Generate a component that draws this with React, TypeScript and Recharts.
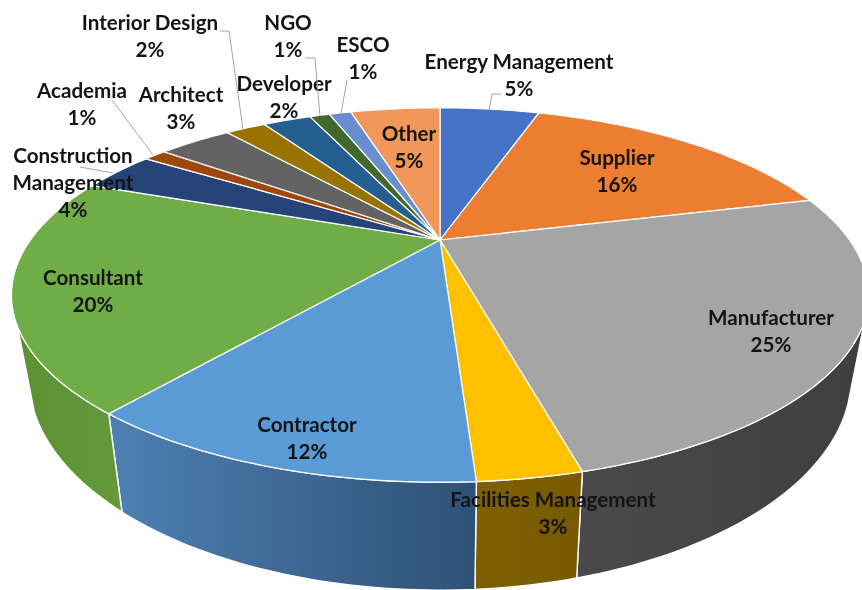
import { PieChart, Pie } from "recharts";

const categories = [
  "Energy Management",
  "Supplier",
  "Manufacturer",
  "Facilities Management",
  "Contractor",
  "Consultant",
  "Construction Management",
  "Academia",
  "Architect",
  "Interior Design",
  "Developer",
  "NGO",
  "ESCO",
  "Other",
];

// slice sizes as measured on the picture
const sliceSizes = [5, 16, 25, 3, 11.7, 20, 3.6, 1.1, 3.6, 2, 2.4, 1, 1.1, 4.5];
// the percentages printed on the labels
const printedPercents = ["5%", "16%", "25%", "3%", "12%", "20%", "4%", "1%", "3%", "2%", "2%", "1%", "1%", "5%"];

const TOP_COLORS = [
  "#4472c4", "#ed7d31", "#a5a5a5", "#ffc000", "#5b9bd5", "#70ad47", "#264478",
  "#9e480e", "#636363", "#997300", "#255e91", "#43682b", "#698ed0", "#f1975a",
];

// wall gradients, only the front slices show one
const WALL_COLORS: Record<number, [string, string]> = {
  2: ["#4a4a4a", "#3f3f3f"],
  3: ["#7f6000", "#775a00"],
  4: ["#4d80b2", "#2f5176"],
  5: ["#5b9133", "#649a3a"],
};

// label centre (x, y of first line) and optional leader line
const LABEL_LAYOUT: { x: number; y: number; lines?: string[]; leader?: string }[] = [
  { x: 519, y: 61, leader: "501,94 492,94 489,110" },
  { x: 617, y: 157 },
  { x: 771, y: 317 },
  { x: 553, y: 499 },
  { x: 307, y: 424 },
  { x: 93, y: 277 },
  { x: 73, y: 155, lines: ["Construction", "Management"], leader: "80,167 113,173" },
  { x: 82, y: 90, leader: "112,100 153,155" },
  { x: 181, y: 94 },
  { x: 150, y: 22, leader: "220,31 229,31 243,129" },
  { x: 284, y: 83 },
  { x: 288, y: 22, leader: "305,58 315,58 320,116" },
  { x: 363, y: 44, leader: "347,80 341,114" },
  { x: 409, y: 133 },
];

const chartData = categories.map((name, i) => ({ name, value: sliceSizes[i] }));

const RIM_Y = 171;
const STRETCH = 2.395;
const TILT = 0.294;
const WALL_SCALE_X = 0.96;
const WALL_SCALE_Y = 1.14;
const WALL_DROP = 74;
const WALL_FROM = -24;
const WALL_TO = -154;

// perspective view of the disc: recharts angle -> point on the rim
function rimPoint(cx: number, cy: number, r: number, deg: number) {
  const a = (deg * Math.PI) / 180;
  const d = 1 + TILT * Math.sin(a);
  return { x: cx + (r * STRETCH * Math.cos(a)) / d, y: cy - (r * Math.sin(a)) / d };
}

function lowerPoint(cx: number, cy: number, p: { x: number; y: number }) {
  return { x: cx + WALL_SCALE_X * (p.x - cx), y: cy + WALL_DROP + WALL_SCALE_Y * (p.y - cy) };
}

function sampleAngles(from: number, to: number) {
  const out: number[] = [];
  for (let a = from; a > to; a -= 1) out.push(a);
  out.push(to);
  return out;
}

function Slice3D(props: any) {
  const { cx, cy, outerRadius, startAngle, endAngle, index } = props;
  const hi = Math.max(startAngle, endAngle);
  const lo = Math.min(startAngle, endAngle);
  const rim = sampleAngles(hi, lo).map((a) => rimPoint(cx, cy, outerRadius, a));
  const top = `M${cx},${cy}L` + rim.map((p) => `${p.x},${p.y}`).join("L") + "Z";

  // only the part of the rim facing the viewer gets a wall
  const from = Math.min(hi, WALL_FROM);
  const to = Math.max(lo, WALL_TO);
  let wall = "";
  if (from > to) {
    const upper = sampleAngles(from, to).map((a) => rimPoint(cx, cy, outerRadius, a));
    const lower = upper.map((p) => lowerPoint(cx, cy, p)).reverse();
    wall = "M" + [...upper, ...lower].map((p) => `${p.x},${p.y}`).join("L") + "Z";
  }
  const wallColors = WALL_COLORS[index];

  return (
    <g>
      {wall && wallColors && (
        <>
          <defs>
            <linearGradient id={`wall-${index}`} x1="0" y1="0" x2="1" y2="0">
              <stop offset="0" stopColor={wallColors[0]} />
              <stop offset="1" stopColor={wallColors[1]} />
            </linearGradient>
          </defs>
          <path d={wall} fill={`url(#wall-${index})`} stroke="#fff" strokeWidth={1.4} />
        </>
      )}
      <path d={top} fill={TOP_COLORS[index]} stroke="#fff" strokeWidth={1.2} />
    </g>
  );
}

function SliceLabel(props: any) {
  const { index, name } = props;
  const spot = LABEL_LAYOUT[index];
  const lines = [...(spot.lines ?? [name]), printedPercents[index]];
  return (
    <g>
      {spot.leader && <polyline points={spot.leader} fill="none" stroke="#a6a6a6" strokeWidth={1} />}
      {lines.map((line, i) => (
        <text
          key={i}
          x={spot.x}
          y={spot.y + i * 27}
          textAnchor="middle"
          dominantBaseline="central"
          fontFamily="Lato"
          fontWeight={700}
          fontSize={20.6}
          fill="#141414"
        >
          {line}
        </text>
      ))}
    </g>
  );
}

export default function App() {
  return (
    <div style={{ position: "absolute", left: 0, top: 0, width: 862, height: 590, overflow: "hidden", background: "#fff", filter: "blur(0.4px)" }}>
      <PieChart width={862} height={590} margin={{ top: 0, right: 0, bottom: 0, left: 0 }}>
        <Pie
          data={chartData}
          dataKey="value"
          nameKey="name"
          cx={440}
          cy={240}
          innerRadius={0}
          outerRadius={RIM_Y}
          startAngle={90}
          endAngle={-270}
          stroke="none"
          shape={Slice3D}
          inactiveShape={Slice3D}
          label={SliceLabel}
          labelLine={false}
          isAnimationActive={false}
        />
      </PieChart>
    </div>
  );
}
